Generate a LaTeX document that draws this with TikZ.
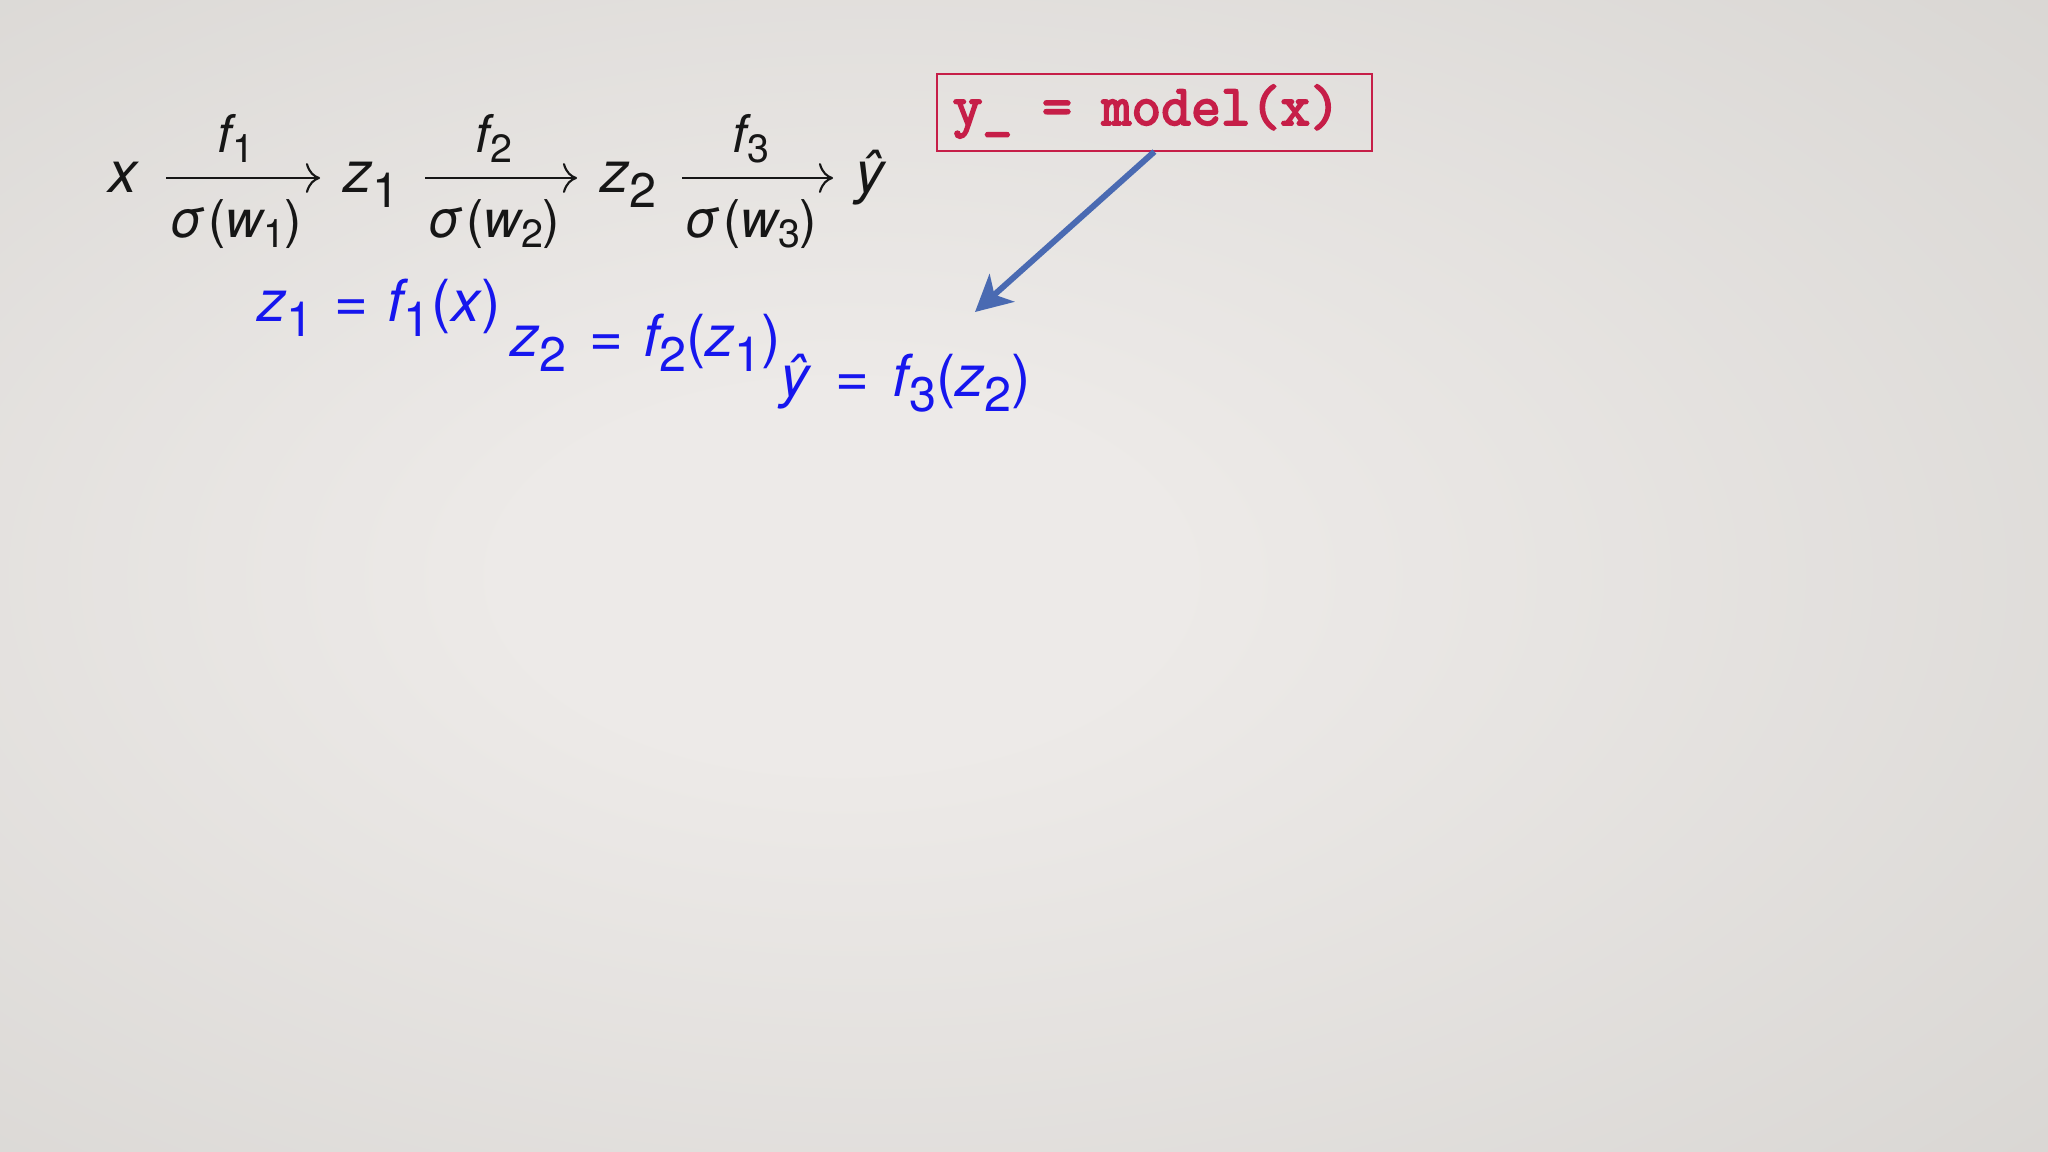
\documentclass[tikz,border=0pt]{standalone}
\usepackage{fontspec}
\setmainfont{TeX Gyre Heros}
\newfontfamily\codefont{Latin Modern Mono}[FakeBold=3.2]
\usetikzlibrary{arrows.meta}
\definecolor{bgin}{RGB}{237,234,232}
\definecolor{bgout}{RGB}{201,199,195}
\definecolor{inkblack}{RGB}{22,22,22}
\definecolor{eqblue}{RGB}{22,22,238}
\definecolor{codered}{RGB}{198,30,72}
\definecolor{arrowblue}{RGB}{74,106,178}
\pgfdeclareradialshading{bgshade}{\pgfpoint{-5bp}{0bp}}{color(0bp)=(bgin); color(8bp)=(bgin); color(62bp)=(bgout); color(80bp)=(bgout)}
\newcommand\mysub[1]{\raisebox{-4pt}{\fontsize{13.8}{14}\selectfont\upshape #1}}
\newcommand\lblsub[1]{\raisebox{-2.8pt}{\fontsize{11.2}{12}\selectfont\upshape #1}}
\begin{document}
\begin{tikzpicture}[x=0.01cm,y=-0.01cm,
  mathtxt/.style={inner sep=0pt, text=inkblack, font=\fontsize{16.5}{20}\selectfont},
  lbltxt/.style={inner sep=0pt, text=inkblack, font=\fontsize{14.8}{18}\selectfont},
  eqtxt/.style={inner sep=0pt, text=eqblue, font=\fontsize{16.5}{20}\selectfont},
  maparrow/.style={draw=inkblack, line width=0.6pt, -{To[length=4pt,width=8.5pt]}},
  codebox/.style={draw=codered, line width=0.45pt, inner sep=0pt},
  codetxt/.style={inner sep=0pt, text=codered, font=\codefont\fontsize{16.45}{18}\selectfont},
  callout/.style={draw=arrowblue, line width=1.7pt, -{Stealth[length=0.36cm,width=0.37cm,inset=0.1cm]}}]
\useasboundingbox (0,0) rectangle (2048,1152);
\shade[shading=bgshade] (0,0) rectangle (2048,1152);

% top row
\node[mathtxt, anchor=base west] (x) at (108,193) {\itshape x};
\node[mathtxt, anchor=base west] (z1) at (343,193) {{\itshape z}\mysub{1}};
\node[mathtxt, anchor=base west] (z2) at (600,193) {{\itshape z}\mysub{2}};
\node[mathtxt, anchor=base west] (yhat) at (855,193) {\itshape ŷ};

\draw[maparrow] ([shift={(28,-15)}]x.base east) -- ([shift={(-23,-15)}]z1.base west);
\draw[maparrow] ([shift={(25,-15)}]z1.base east) -- ([shift={(-23,-15)}]z2.base west);
\draw[maparrow] ([shift={(25,-15)}]z2.base east) -- ([shift={(-22,-15)}]yhat.base west);

\node[lbltxt, anchor=base] (f1) at (236,153) {{\itshape f}\lblsub{1}};
\node[lbltxt, anchor=base] (f2) at (494,153) {{\itshape f}\lblsub{2}};
\node[lbltxt, anchor=base] (f3) at (751,153) {{\itshape f}\lblsub{3}};
\node[lbltxt, anchor=base] (s1) at (236,238) {{\itshape σ}\hspace{0.08em}({\itshape w}\lblsub{1})};
\node[lbltxt, anchor=base] (s2) at (494,238) {{\itshape σ}\hspace{0.08em}({\itshape w}\lblsub{2})};
\node[lbltxt, anchor=base] (s3) at (751,238) {{\itshape σ}\hspace{0.08em}({\itshape w}\lblsub{3})};

% blue equations
\node[eqtxt, anchor=base west] (e1) at (257,322) {{\itshape z}\mysub{1}\hspace{0.36em}=\hspace{0.32em}{\itshape f}\mysub{1}\hspace{0.03em}({\itshape x}\hspace{0.03em})};
\node[eqtxt, anchor=base west] (e2) at (510,357) {{\itshape z}\mysub{2}\hspace{0.4em}=\hspace{0.34em}{\itshape f}\mysub{2}({\itshape z}\mysub{1})};
\node[eqtxt, anchor=base west] (e3) at (780,397) {{\itshape ŷ}\hspace{0.45em}=\hspace{0.4em}{\itshape f}\mysub{3}({\itshape z}\mysub{2})};

% code box and callout arrow
\node[codebox, anchor=north west, minimum width=4.35cm, minimum height=0.77cm] (box) at (936,73) {};
\node[codetxt, anchor=base west] (code) at (952,125) {y\_ = model(x)};
\coordinate (tip) at (975,312);
\draw[callout] (box.south) -- (tip);
\end{tikzpicture}
\end{document}
